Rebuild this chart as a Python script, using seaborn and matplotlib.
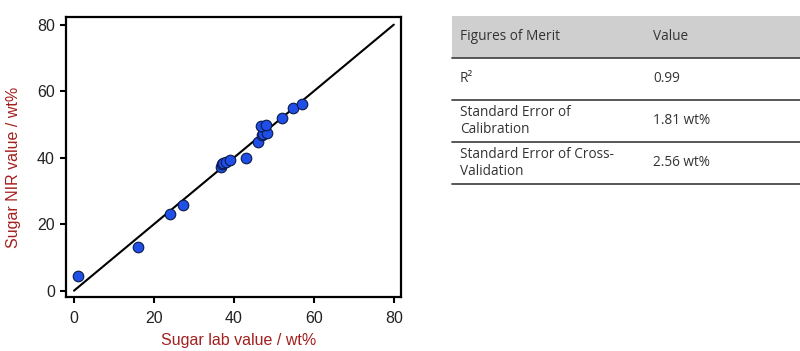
import matplotlib
matplotlib.use("Agg")
import matplotlib.pyplot as plt
import seaborn as sns
import pandas as pd

# reference vs predicted sugar content (wt%)
lab_value = [0.9, 16.0, 24.0, 27.3, 36.8, 37.0, 37.3, 38.0, 39.0, 43.0,
             46.1, 47.0, 47.2, 48.2, 46.9, 48.0, 52.0, 54.9, 57.0]
nir_value = [4.5, 13.2, 23.0, 25.7, 37.1, 38.2, 38.5, 38.8, 39.3, 39.9,
             44.8, 46.8, 47.1, 47.3, 49.4, 49.8, 52.0, 54.8, 56.2]
ideal_line = [0, 80]

merit_names = ["R²", "Standard Error of\nCalibration", "Standard Error of Cross-\nValidation"]
merit_values = ["0.99", "1.81 wt%", "2.56 wt%"]

df = pd.DataFrame({"lab": lab_value, "nir": nir_value})

sns.set_style("ticks")
plt.rcParams['font.family'] = ['Liberation Sans', 'DejaVu Sans']

fig = plt.figure(figsize=(8, 3.51), dpi=100)
ax = fig.add_axes([66 / 800, 1 - 297 / 351, 335 / 800, 280 / 351])

sns.lineplot(x=ideal_line, y=ideal_line, color="black", linewidth=1.5, ax=ax, zorder=1)
sns.scatterplot(data=df, x="lab", y="nir", s=58, color="#1f4fe6", edgecolor="#0b1a4a",
                linewidth=0.8, ax=ax, zorder=3)

ax.set_xlim(-2, 81.8)
ax.set_ylim(-1.9, 82.3)
ax.set_xticks([0, 20, 40, 60, 80])
ax.set_yticks([0, 20, 40, 60, 80])
ax.tick_params(labelsize=11.5, width=1.5, length=4, pad=4, colors="black", labelcolor="#222222")
ax.tick_params(axis="x", pad=6)
for s in ax.spines.values():
    s.set_linewidth(1.6)
    s.set_color("black")
ax.set_xlabel("Sugar lab value / wt%", color="#a3201e", fontsize=11.5, va="center")
ax.set_ylabel("Sugar NIR value / wt%", color="#a3201e", fontsize=11.5, va="center")
ax.xaxis.set_label_coords(0.515, -0.157)
ax.yaxis.set_label_coords(-0.158, 0.464)

# table of figures of merit, drawn in pixel coordinates
tab = fig.add_axes([0, 0, 1, 1], facecolor="none")
tab.set_xlim(0, 800)
tab.set_ylim(351, 0)
tab.axis("off")
tab.fill_between([452, 800], 16, 58, color="#cfcfcf", linewidth=0)
for yl in [58, 100, 142, 184]:
    tab.plot([452, 800], [yl, yl], color="#4a4a4a", linewidth=1.3)

tfont = dict(family=["Open Sans", "DejaVu Sans"], fontsize=9.8, color="#333333", va="center")
tab.text(460, 37, "Figures of Merit", **tfont)
tab.text(653, 37, "Value", **tfont)
for name, val, yc in zip(merit_names, merit_values, [79, 121, 163]):
    tab.text(460, yc, name, linespacing=1.1, **tfont)
    tab.text(653, yc, val, **tfont)

fig.savefig("out.png", dpi=100)
